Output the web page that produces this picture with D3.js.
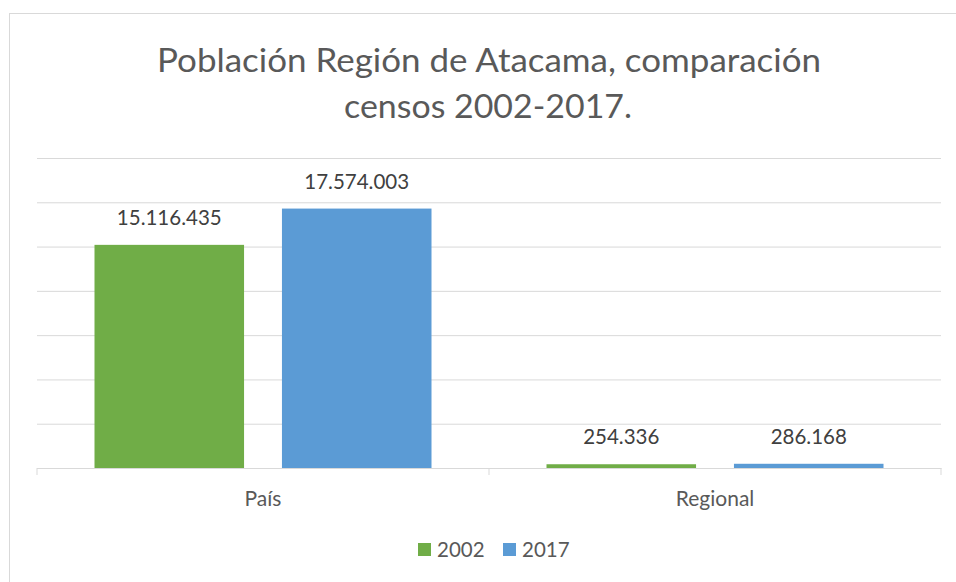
<!DOCTYPE html>
<head>
<meta charset="utf-8">
<script src="https://d3js.org/d3.v7.min.js"></script>
<style>
  body { margin: 0; background: #fff; }
  svg text { font-family: Lato, "Open Sans", sans-serif; fill: #595959; }
</style>
<title>Población Región de Atacama</title>
</head>
<body>
<svg id="chart" width="956" height="582"></svg>
<script>
    // data
    let categories = ['País', 'Regional'];
    let years = ['2002', '2017'];
    let values2002 = [15116435, 254336];
    let values2017 = [17574003, 286168];
    let yTicks = [0, 3000000, 6000000, 9000000, 12000000, 15000000, 18000000, 21000000];
    let colors = ['#70ad47', '#5b9bd5'];

    let svg = d3.select('#chart');

    // chart frame
    svg.append('rect')
        .attr('x', 9.5).attr('y', 13.5)
        .attr('width', 1000).attr('height', 700)
        .style('fill', 'none').style('stroke', '#d9d9d9');

    // title
    svg.append('text')
        .attr('x', 489).attr('y', 72)
        .attr('text-anchor', 'middle')
        .attr('textLength', 664).attr('lengthAdjust', 'spacingAndGlyphs')
        .style('font-size', '32px')
        .text('Población Región de Atacama, comparación');
    svg.append('text')
        .attr('x', 488).attr('y', 118)
        .attr('text-anchor', 'middle')
        .attr('textLength', 288).attr('lengthAdjust', 'spacingAndGlyphs')
        .style('font-size', '32px')
        .text('censos 2002-2017.');

    let x0 = d3.scaleBand().domain(categories).range([37, 941]).paddingInner(0).paddingOuter(0);
    let x1 = d3.scaleBand().domain(years).range([57.5, x0.bandwidth() - 57.5]).paddingInner(38 / 188);
    let y = d3.scaleLinear().domain([0, 21000000]).range([468, 158]);

    // gridlines
    svg.append('g')
        .attr('transform', 'translate(37,0)')
        .call(d3.axisLeft(y).tickValues(yTicks).tickSize(-904).tickFormat(''))
        .call(g => g.select('.domain').remove())
        .call(g => g.selectAll('.tick line').style('stroke', '#d9d9d9').style('stroke-width', 1));

    // category axis
    let xAxis = svg.append('g')
        .attr('transform', 'translate(0,468)')
        .call(d3.axisBottom(x0).tickSize(0).tickPadding(23).tickSizeOuter(0));
    xAxis.select('.domain').style('stroke', '#d9d9d9');
    xAxis.selectAll('.tick text')
        .style('font-size', '21px').style('fill', '#595959')
        .style('font-family', 'Lato, "Open Sans", sans-serif');
    // separators between categories
    svg.append('g').selectAll('line')
        .data([0, 1, 2])
        .enter().append('line')
        .attr('x1', d => 37 + d * x0.bandwidth()).attr('x2', d => 37 + d * x0.bandwidth())
        .attr('y1', 468).attr('y2', 475)
        .style('stroke', '#d9d9d9');

    let series = [values2002, values2017];
    let rows = [];
    categories.forEach(function(c, i) {
        years.forEach(function(yr, j) {
            rows.push({ cat: c, year: yr, value: series[j][i], color: colors[j] });
        });
    });

    let g = svg.append('g');
    g.selectAll('rect')
        .data(rows)
        .enter().append('rect')
        .attr('x', d => x0(d.cat) + x1(d.year))
        .attr('y', d => y(d.value))
        .attr('width', x1.bandwidth())
        .attr('height', d => 468 - y(d.value))
        .style('fill', d => d.color);

    g.selectAll('text')
        .data(rows)
        .enter().append('text')
        .attr('x', d => x0(d.cat) + x1(d.year) + x1.bandwidth() / 2)
        .attr('y', d => y(d.value) - 20)
        .attr('text-anchor', 'middle')
        .style('font-size', '20.5px')
        .style('fill', '#404040')
        .text(d => d3.format(',')(d.value).replace(/,/g, '.'));

    // legend
    let legend = svg.append('g');
    let legendX = [418, 503];
    years.forEach(function(yr, j) {
        legend.append('rect')
            .attr('x', legendX[j]).attr('y', 543)
            .attr('width', 13).attr('height', 13)
            .style('fill', colors[j]);
        legend.append('text')
            .attr('x', legendX[j] + 19).attr('y', 557)
            .style('font-size', '20.5px')
            .text(yr);
    });
</script>
</body>
